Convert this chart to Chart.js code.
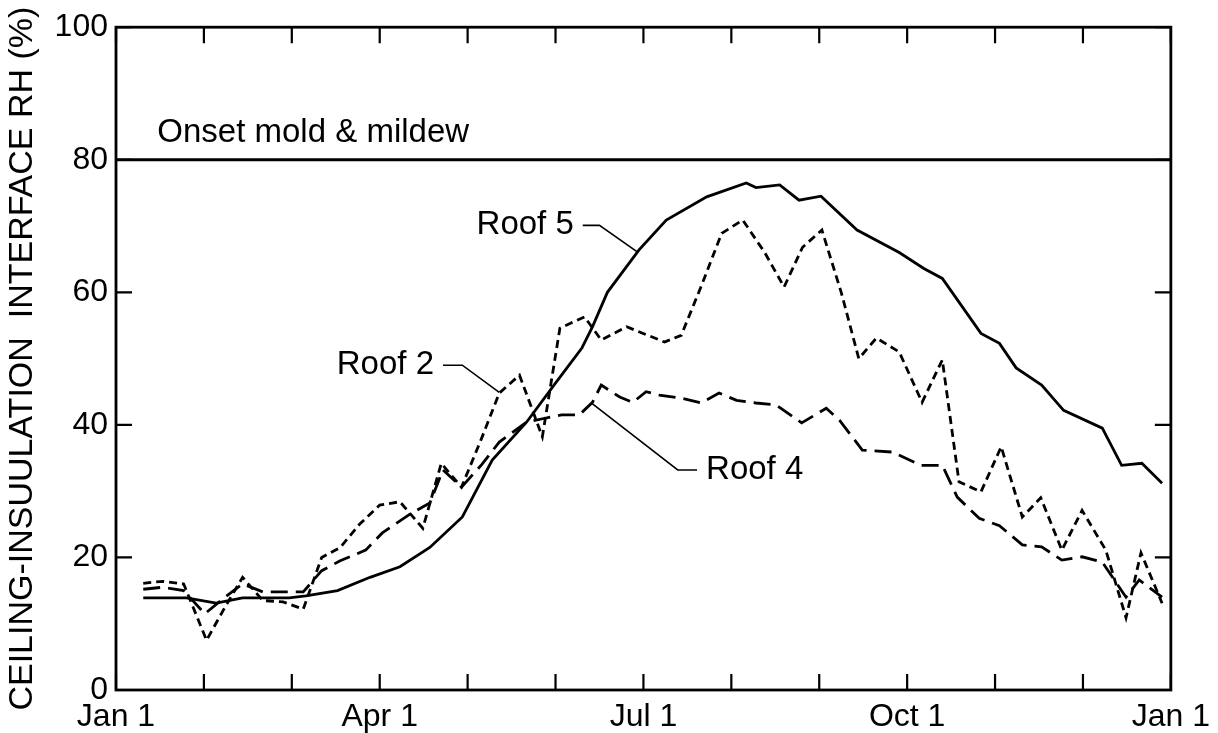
<!DOCTYPE html>
<html>
<head>
<meta charset="utf-8">
<script src="https://cdn.jsdelivr.net/npm/chart.js@4.4.0/dist/chart.umd.min.js"></script>
<style>
  body { margin: 0; background: #fff; }
  #wrap { width: 1218px; height: 733px; position: relative; }
</style>
</head>
<body>
<div id="wrap"><canvas id="rh-chart"></canvas></div>
<script>
// x values are months since Jan 1 (0..12), y values are RH %
const roof5Months = [0.31, 0.53, 0.80, 1.14, 1.44, 1.67, 1.97, 2.16, 2.52, 2.89, 3.23, 3.57, 3.94, 4.28, 4.67, 5.01, 5.30, 5.42, 5.59, 5.95, 6.26, 6.72, 7.17, 7.28, 7.55, 7.77, 8.02, 8.43, 8.91, 9.19, 9.40, 9.84, 10.05, 10.24, 10.53, 10.78, 11.22, 11.44, 11.67, 11.90];
const roof5RH = [13.9, 13.9, 13.9, 13.1, 13.9, 13.9, 13.9, 14.2, 15.0, 17.0, 18.6, 21.5, 26.1, 34.7, 40.4, 46.5, 51.6, 54.8, 60.0, 66.4, 70.9, 74.4, 76.5, 75.8, 76.2, 73.9, 74.5, 69.4, 66.0, 63.6, 62.1, 53.8, 52.3, 48.6, 46.0, 42.2, 39.5, 33.9, 34.2, 31.2];

const roof2Months = [0.31, 0.53, 0.77, 1.03, 1.24, 1.44, 1.67, 1.90, 2.13, 2.34, 2.55, 2.77, 3.00, 3.23, 3.49, 3.70, 3.93, 4.16, 4.36, 4.59, 4.85, 5.05, 5.33, 5.52, 5.81, 6.24, 6.43, 6.66, 6.89, 7.13, 7.38, 7.60, 7.81, 8.03, 8.25, 8.45, 8.65, 8.91, 9.17, 9.40, 9.59, 9.84, 10.07, 10.31, 10.52, 10.76, 10.99, 11.26, 11.49, 11.66, 11.90];
const roof2RH = [16.1, 16.4, 16.0, 7.5, 12.5, 17.0, 13.5, 13.3, 12.2, 20.0, 21.5, 25.0, 27.9, 28.4, 24.4, 34.2, 30.6, 38.0, 44.8, 47.5, 38.2, 54.6, 56.3, 52.8, 54.8, 52.5, 53.5, 61.0, 68.9, 70.9, 66.0, 60.8, 66.8, 69.4, 60.0, 50.0, 53.1, 51.0, 43.4, 49.8, 31.4, 29.9, 36.7, 26.1, 29.0, 21.1, 27.1, 21.1, 10.9, 20.7, 13.1];

const roof4Months = [0.31, 0.53, 0.77, 1.01, 1.24, 1.44, 1.67, 1.90, 2.13, 2.34, 2.55, 2.84, 3.03, 3.34, 3.57, 3.72, 3.93, 4.16, 4.36, 4.67, 4.88, 5.07, 5.27, 5.42, 5.52, 5.73, 5.88, 6.03, 6.18, 6.44, 6.66, 6.86, 7.06, 7.28, 7.51, 7.80, 8.08, 8.23, 8.49, 8.83, 9.16, 9.40, 9.57, 9.82, 10.05, 10.31, 10.53, 10.76, 10.99, 11.22, 11.49, 11.64, 11.90];
const roof4RH = [15.2, 15.5, 15.0, 11.5, 14.0, 16.0, 14.8, 14.8, 14.8, 18.0, 19.5, 21.1, 23.7, 26.5, 28.2, 33.2, 30.6, 34.0, 37.4, 40.4, 41.0, 41.5, 41.5, 43.4, 46.0, 44.2, 43.4, 45.0, 44.5, 44.0, 43.3, 44.8, 43.7, 43.3, 43.0, 40.3, 42.5, 40.7, 36.2, 35.9, 33.9, 33.9, 29.1, 25.9, 24.8, 21.9, 21.6, 19.6, 20.1, 19.3, 14.0, 16.6, 14.0];

const moldThreshold = 80;
const tickMonths = [0, 3, 6, 9, 12];
const tickLabels = ["Jan 1", "Apr 1", "Jul 1", "Oct 1", "Jan 1"];

// Text labels with their leader lines (data units)
const notes = [
  { text: "Roof 5", align: "right", path: [[5.31, 70.1], [5.50, 70.1], [5.93, 66.1]] },
  { text: "Roof 2", align: "right", path: [[3.72, 49.0], [3.94, 49.0], [4.36, 44.9]] },
  { text: "Roof 4", align: "left", path: [[6.61, 33.2], [6.39, 33.2], [5.41, 43.3]] },
];
const thresholdLabel = { text: "Onset mold & mildew", x: 0.47, y: 84.0 };

const FONT = '"Liberation Sans", Arial, Helvetica, sans-serif';

function toPoints(xs, ys) {
  return xs.map((x, i) => ({ x: x, y: ys[i] }));
}

// Frame, inward tick marks and annotations
const framePlugin = {
  id: "frame",
  afterDraw(chart) {
    const ctx = chart.ctx;
    const area = chart.chartArea;
    const xs = chart.scales.x;
    const ys = chart.scales.y;
    const tickLen = 16;

    ctx.save();
    ctx.strokeStyle = "#000";
    ctx.lineWidth = 2.8;
    ctx.strokeRect(area.left, area.top, area.right - area.left, area.bottom - area.top);

    ctx.lineWidth = 2.2;
    ctx.beginPath();
    for (let m = 0; m <= 12; m++) {
      const px = xs.getPixelForValue(m);
      ctx.moveTo(px, area.bottom);
      ctx.lineTo(px, area.bottom - tickLen);
      ctx.moveTo(px, area.top);
      ctx.lineTo(px, area.top + tickLen);
    }
    for (let v = 0; v <= 100; v += 20) {
      const py = ys.getPixelForValue(v);
      ctx.moveTo(area.left, py);
      ctx.lineTo(area.left + tickLen, py);
      ctx.moveTo(area.right, py);
      ctx.lineTo(area.right - tickLen, py);
    }
    ctx.stroke();

    ctx.fillStyle = "#000";
    ctx.font = "33px " + FONT;
    ctx.textBaseline = "middle";
    ctx.textAlign = "left";
    ctx.fillText(thresholdLabel.text, xs.getPixelForValue(thresholdLabel.x), ys.getPixelForValue(thresholdLabel.y));

    ctx.lineWidth = 1.6;
    notes.forEach((n) => {
      const pts = n.path.map((p) => [xs.getPixelForValue(p[0]), ys.getPixelForValue(p[1])]);
      ctx.beginPath();
      ctx.moveTo(pts[0][0], pts[0][1]);
      for (let i = 1; i < pts.length; i++) ctx.lineTo(pts[i][0], pts[i][1]);
      ctx.stroke();
      ctx.textAlign = n.align;
      const gap = n.align === "right" ? -9 : 9;
      ctx.fillText(n.text, pts[0][0] + gap, pts[0][1]);
    });
    ctx.restore();
  },
};

const lineStyle = {
  borderColor: "#000",
  borderWidth: 2.8,
  pointRadius: 0,
  tension: 0,
  fill: false,
};

new Chart(document.getElementById("rh-chart"), {
  type: "line",
  data: {
    datasets: [
      Object.assign({ label: "Onset mold & mildew", data: [{ x: 0, y: moldThreshold }, { x: 12, y: moldThreshold }] }, lineStyle),
      Object.assign({ label: "Roof 5", data: toPoints(roof5Months, roof5RH) }, lineStyle),
      Object.assign({ label: "Roof 2", data: toPoints(roof2Months, roof2RH), borderDash: [8, 5] }, lineStyle),
      Object.assign({ label: "Roof 4", data: toPoints(roof4Months, roof4RH), borderDash: [17, 8] }, lineStyle),
    ],
  },
  options: {
    responsive: true,
    maintainAspectRatio: false,
    animation: false,
    layout: { padding: { top: 27, right: 46, left: 2, bottom: 0 } },
    plugins: { legend: { display: false }, tooltip: { enabled: false } },
    scales: {
      x: {
        type: "linear",
        min: 0,
        max: 12,
        afterFit: (s) => { s.height = 43; },
        afterBuildTicks: (s) => { s.ticks = tickMonths.map((v) => ({ value: v })); },
        grid: { display: false, drawTicks: false },
        border: { display: false },
        ticks: {
          autoSkip: false,
          maxRotation: 0,
          padding: 8,
          color: "#000",
          font: { family: FONT, size: 32 },
          callback: (v) => tickLabels[tickMonths.indexOf(v)],
        },
      },
      y: {
        min: 0,
        max: 100,
        afterFit: (s) => { s.width = 114; },
        grid: { display: false, drawTicks: false },
        border: { display: false },
        ticks: {
          stepSize: 20,
          padding: 8,
          color: "#000",
          font: { family: FONT, size: 32 },
        },
        title: {
          display: true,
          text: "CEILING-INSUULATION  INTERFACE RH (%)",
          color: "#000",
          font: { family: FONT, size: 34 },
          padding: { top: 0, bottom: 0 },
        },
      },
    },
  },
  plugins: [framePlugin],
});
</script>
</body>
</html>
